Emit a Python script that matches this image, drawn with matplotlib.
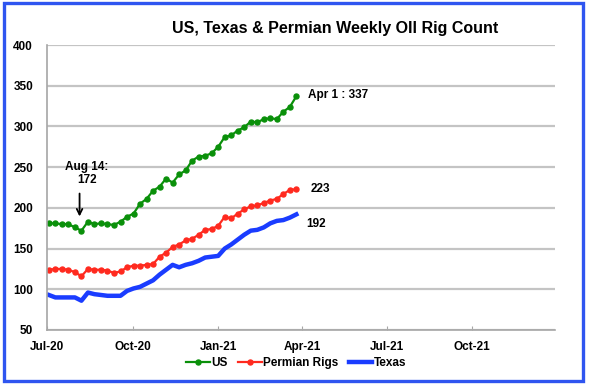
import numpy as np
import pandas as pd
import matplotlib
matplotlib.use("Agg")
import matplotlib.pyplot as plt
import matplotlib.dates as mdates
from matplotlib.patches import Rectangle

plt.rcParams['font.family'] = ['Liberation Sans', 'DejaVu Sans']
plt.rcParams['font.weight'] = 'bold'

# weekly points, Jul 2020 -> end of Mar 2021
dates = pd.date_range('2020-07-03', periods=39, freq='7D')

us = [181, 181, 180, 180, 176, 172, 183, 180, 181, 180, 179, 183, 189, 193,
      205, 211, 221, 226, 236, 231, 241, 246, 258, 263, 264, 267, 275, 287,
      289, 295, 299, 306, 305, 309, 310, 309, 318, 324, 337]
permian = [124, 125, 125, 124, 121, 116, 125, 124, 124, 123, 120, 122, 127,
           129, 129, 130, 131, 140, 145, 152, 155, 160, 162, 167, 173, 174,
           178, 189, 187, 193, 198, 202, 203, 206, 209, 211, 217, 222, 223]
texas = [93, 90, 90, 90, 90, 86, 96, 94, 93, 92, 92, 92, 98, 101, 103, 107,
         111, 118, 124, 130, 127, 130, 132, 135, 139, 140, 141, 150, 155, 161,
         167, 172, 173, 176, 181, 184, 185, 188, 192]

fig = plt.figure(figsize=(5.92, 3.84), dpi=100)
ax = fig.add_axes([47/592, 1-330/384, 508/592, 285/384])

green = '#0a900a'
red = '#ff2a1f'
blue = '#1a3cff'

ax.plot(dates, us, color=green, lw=1.6, marker='o', ms=3.6, label='US')
ax.plot(dates, permian, color=red, lw=1.6, marker='o', ms=3.6, label='Permian Rigs')
ax.plot(dates, texas, color=blue, lw=3.2, label='Texas')

ax.set_ylim(50, 400)
ax.set_yticks(range(50, 401, 50))
ax.set_xlim(pd.Timestamp('2020-07-01'), pd.Timestamp('2021-12-29'))
ax.set_xticks(pd.to_datetime(['2020-07-01', '2020-10-01', '2021-01-01',
                              '2021-04-01', '2021-07-01', '2021-10-01']))
ax.xaxis.set_major_formatter(mdates.DateFormatter('%b-%y'))

ax.grid(axis='y', color='#c4c4c4', lw=1.6)
ax.set_axisbelow(True)
for s in ['top', 'right']:
    ax.spines[s].set_visible(False)
for s in ['left', 'bottom']:
    ax.spines[s].set_color('#a6a6a6')
    ax.spines[s].set_linewidth(1.2)
ax.tick_params(axis='x', direction='in', length=3, color='#a6a6a6',
               labelsize=8.5, pad=8)
ax.tick_params(axis='y', length=0, labelsize=8.5, pad=10)

fig.text(335/592, 1-28/384, 'US, Texas & Permian Weekly OIl Rig Count',
         ha='center', va='center', fontsize=11.5, fontweight='bold')

# annotations
ax.annotate('', xy=(dates[5] - pd.Timedelta(days=2), 186),
            xytext=(dates[5] - pd.Timedelta(days=2), 221),
            arrowprops=dict(arrowstyle='->', color='black', lw=1.3,
                            mutation_scale=10))
ax.text(dates[6] - pd.Timedelta(days=1), 242, 'Aug 14:\n172', ha='center',
        va='center', fontsize=8.5, fontweight='bold', linespacing=1.1)
ax.text(dates[-1] + pd.Timedelta(days=12), 339, 'Apr 1 : 337', ha='left',
        va='center', fontsize=8.5, fontweight='bold')
ax.text(dates[-1] + pd.Timedelta(days=15), 223, '223', ha='left',
        va='center', fontsize=8.5, fontweight='bold')
ax.text(dates[-1] + pd.Timedelta(days=11), 180, '192', ha='left',
        va='center', fontsize=8.5, fontweight='bold')

fig.legend(loc='center', bbox_to_anchor=(0.5, 1-363/384), ncol=3,
           frameon=False, fontsize=8.5, handlelength=2.0, handletextpad=0.1,
           columnspacing=0.9, borderpad=0)

fig.patches.append(Rectangle((4/592, 3/384), 579/592, 378/384,
                             transform=fig.transFigure, fill=False,
                             edgecolor='#2f55f0', lw=2.4))

fig.savefig('out.png', dpi=100)
